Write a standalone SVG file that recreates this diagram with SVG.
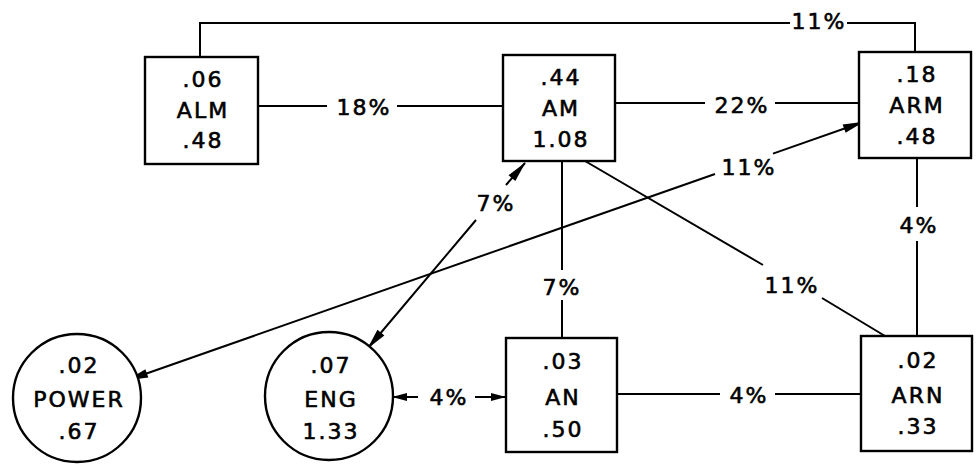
<svg xmlns="http://www.w3.org/2000/svg" width="979" height="474" viewBox="0 0 979 474">
<style>
.node rect, .node circle { fill: #fff; stroke: #000; stroke-width: 2.4; }
.node text, .lbl { font-family: "DejaVu Sans", "Liberation Sans", sans-serif; font-size: 22px; text-anchor: middle; letter-spacing: 2px; fill: #000; stroke: #000; stroke-width: 0.6; }
.conn path { fill: none; stroke: #000; stroke-width: 2; }
</style>
<defs>
<marker id="arr" markerUnits="userSpaceOnUse" markerWidth="24" markerHeight="12" refX="0" refY="0" orient="auto-start-reverse" overflow="visible">
<path d="M1,0 L-20,-4.5 L-20,4.5 Z" fill="#000"/>
</marker>
<marker id="arrs" markerUnits="userSpaceOnUse" markerWidth="16" markerHeight="10" refX="0" refY="0" orient="auto-start-reverse" overflow="visible">
<path d="M1,0 L-14,-4 L-14,4 Z" fill="#000"/>
</marker>
</defs>
<g class="conn" id="connectors">
<path d="M200,57 L200,23 L790,23 M847,23 L915,23 L915,52"/>
<path d="M258,106 L327,106 M397,106 L503,106"/>
<path d="M615,103 L705,103 M775,103 L859,103"/>
<path d="M562,161 L562,270 M562,300 L562,338"/>
<path d="M585,161 L763,265 M822,298 L885,336"/>
<path d="M917,158 L917,207 M917,241 L917,336"/>
<path d="M617,394 L720,394 M775,394 L861,394"/>
<path d="M128,380 L715,174 M773,153.6 L863,122" marker-start="url(#arr)" marker-end="url(#arr)"/>
<path d="M368,348 L476,220 M506,185 L525,163" marker-start="url(#arr)" marker-end="url(#arr)"/>
<path d="M393,397 L418,397 M475,397 L505,397" marker-start="url(#arrs)" marker-end="url(#arrs)"/>
<text class="lbl" x="819" y="29">11%</text>
<text class="lbl" x="364" y="115">18%</text>
<text class="lbl" x="742" y="113">22%</text>
<text class="lbl" x="749" y="175">11%</text>
<text class="lbl" x="496" y="211">7%</text>
<text class="lbl" x="919" y="233">4%</text>
<text class="lbl" x="562" y="295">7%</text>
<text class="lbl" x="792" y="293">11%</text>
<text class="lbl" x="449" y="405">4%</text>
<text class="lbl" x="749" y="403">4%</text>
</g>
<g class="node" id="ALM">
<rect x="145" y="57" width="113" height="107"/>
<text x="203" y="87">.06</text>
<text x="203" y="118">ALM</text>
<text x="203" y="148">.48</text>
</g>
<g class="node" id="AM">
<rect x="503" y="55" width="112" height="106"/>
<text x="561" y="85">.44</text>
<text x="561" y="116">AM</text>
<text x="561" y="147">1.08</text>
</g>
<g class="node" id="ARM">
<rect x="859" y="52" width="112" height="106"/>
<text x="917" y="82">.18</text>
<text x="917" y="113">ARM</text>
<text x="917" y="144">.48</text>
</g>
<g class="node" id="AN">
<rect x="506" y="338" width="111" height="114"/>
<text x="563" y="369">.03</text>
<text x="563" y="405">AN</text>
<text x="563" y="437">.50</text>
</g>
<g class="node" id="ARN">
<rect x="861" y="336" width="111" height="115"/>
<text x="918" y="368">.02</text>
<text x="918" y="403">ARN</text>
<text x="918" y="434">.33</text>
</g>
<g class="node" id="POWER">
<circle cx="77" cy="398" r="64"/>
<text x="79" y="373">.02</text>
<text x="79" y="407">POWER</text>
<text x="79" y="439">.67</text>
</g>
<g class="node" id="ENG">
<circle cx="329" cy="396" r="64"/>
<text x="331" y="373">.07</text>
<text x="331" y="407">ENG</text>
<text x="331" y="439">1.33</text>
</g>
</svg>
